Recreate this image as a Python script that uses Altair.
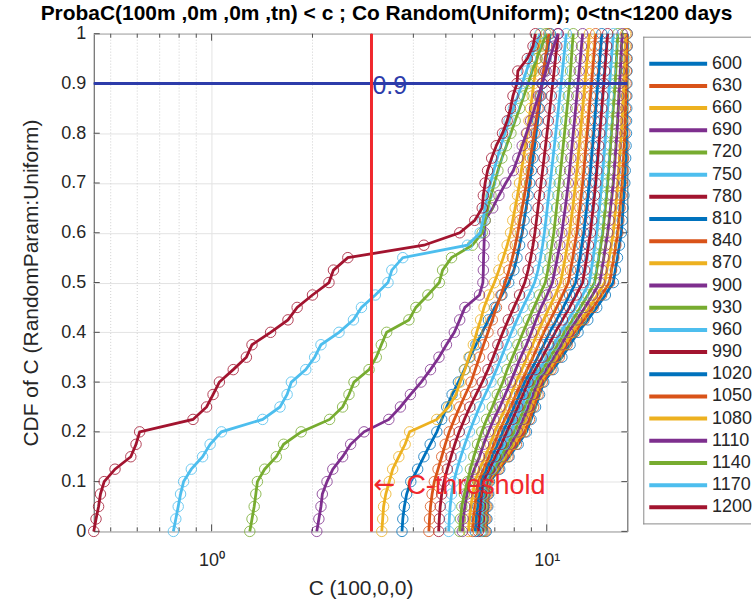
import altair as alt
import pandas as pd

# Empirical CDF levels shared by every series
cdf_levels = [0.0, 0.025, 0.05, 0.075, 0.1, 0.125, 0.15, 0.175, 0.2, 0.225,
              0.25, 0.275, 0.3, 0.325, 0.35, 0.375, 0.4, 0.425, 0.45, 0.475,
              0.5, 0.525, 0.55, 0.575, 0.6, 0.625, 0.65, 0.675, 0.7, 0.725,
              0.75, 0.775, 0.8, 0.825, 0.85, 0.875, 0.9, 0.925, 0.95, 0.975, 1.0]

tn_days = [600, 630, 660, 690, 720, 750, 780, 810, 840, 870, 900,
           930, 960, 990, 1020, 1050, 1080, 1110, 1140, 1170, 1200]

# Concentration C(100,0,0) reached at each CDF level, one list per tn
c_600 = [6.60, 6.63, 6.67, 6.71, 6.75, 7.24, 7.72, 8.22, 8.70, 8.98, 9.26, 9.52, 9.80, 10.44,
         11.10, 11.74, 12.40, 13.26, 14.10, 14.96, 15.80, 16.02, 16.26, 16.48, 16.70, 16.80,
         16.90, 17.00, 17.10, 17.15, 17.20, 17.25, 17.30, 17.31, 17.33, 17.34, 17.35, 17.36,
         17.37, 17.39, 17.40]
c_630 = [6.55, 6.58, 6.62, 6.66, 6.70, 7.18, 7.66, 8.12, 8.60, 8.88, 9.14, 9.42, 9.70, 10.30,
         10.90, 11.50, 12.10, 12.92, 13.76, 14.58, 15.40, 15.62, 15.86, 16.08, 16.30, 16.42,
         16.56, 16.68, 16.80, 16.88, 16.95, 17.02, 17.10, 17.14, 17.18, 17.22, 17.25, 17.28,
         17.30, 17.33, 17.35]
c_660 = [6.50, 6.53, 6.57, 6.61, 6.66, 7.10, 7.54, 7.96, 8.40, 8.68, 8.98, 9.26, 9.55, 10.14,
         10.72, 11.32, 11.90, 12.66, 13.40, 14.16, 14.90, 15.12, 15.36, 15.58, 15.80, 15.92,
         16.06, 16.18, 16.30, 16.40, 16.50, 16.60, 16.70, 16.78, 16.85, 16.92, 17.00, 17.05,
         17.10, 17.15, 17.20]
c_690 = [6.45, 6.48, 6.52, 6.57, 6.62, 7.02, 7.40, 7.80, 8.20, 8.50, 8.80, 9.10, 9.40, 9.96,
         10.50, 11.06, 11.60, 12.30, 13.00, 13.70, 14.40, 14.60, 14.80, 15.00, 15.20, 15.36,
         15.50, 15.66, 15.80, 15.90, 16.00, 16.10, 16.20, 16.28, 16.35, 16.42, 16.50, 16.58,
         16.65, 16.72, 16.80]
c_720 = [6.40, 6.43, 6.47, 6.52, 6.58, 6.94, 7.30, 7.64, 8.00, 8.30, 8.60, 8.90, 9.20, 9.72,
         10.24, 10.78, 11.30, 11.96, 12.60, 13.26, 13.90, 14.10, 14.30, 14.50, 14.70, 14.82,
         14.96, 15.08, 15.20, 15.30, 15.40, 15.50, 15.60, 15.70, 15.80, 15.90, 16.00, 16.08,
         16.15, 16.22, 16.30]
c_750 = [6.35, 6.38, 6.42, 6.47, 6.52, 6.84, 7.16, 7.48, 7.80, 8.10, 8.40, 8.70, 9.00, 9.50,
         10.00, 10.50, 11.00, 11.60, 12.20, 12.80, 13.40, 13.58, 13.76, 13.92, 14.10, 14.22,
         14.36, 14.48, 14.60, 14.70, 14.80, 14.90, 15.00, 15.10, 15.20, 15.30, 15.40, 15.50,
         15.60, 15.70, 15.80]
c_780 = [6.25, 6.29, 6.34, 6.39, 6.45, 6.74, 7.02, 7.32, 7.60, 7.90, 8.20, 8.50, 8.80, 9.24,
         9.70, 10.14, 10.60, 11.14, 11.70, 12.24, 12.80, 12.98, 13.16, 13.32, 13.50, 13.62,
         13.76, 13.88, 14.00, 14.10, 14.20, 14.30, 14.40, 14.50, 14.60, 14.70, 14.80, 14.90,
         15.00, 15.10, 15.20]
c_810 = [6.12, 6.16, 6.22, 6.28, 6.35, 6.60, 6.86, 7.14, 7.40, 7.70, 8.00, 8.30, 8.60, 9.00,
         9.40, 9.80, 10.20, 10.70, 11.20, 11.70, 12.20, 12.38, 12.56, 12.72, 12.90, 13.02,
         13.16, 13.28, 13.40, 13.50, 13.60, 13.70, 13.80, 13.90, 14.00, 14.10, 14.20, 14.30,
         14.40, 14.50, 14.60]
c_840 = [6.00, 6.04, 6.10, 6.17, 6.25, 6.48, 6.72, 6.96, 7.20, 7.50, 7.80, 8.10, 8.40, 8.74,
         9.10, 9.44, 9.80, 10.24, 10.70, 11.14, 11.60, 11.78, 11.96, 12.12, 12.30, 12.42,
         12.56, 12.68, 12.80, 12.90, 13.00, 13.10, 13.20, 13.30, 13.40, 13.50, 13.60, 13.70,
         13.80, 13.90, 14.00]
c_870 = [5.84, 5.88, 5.94, 6.02, 6.10, 6.30, 6.55, 6.78, 7.00, 7.26, 7.55, 7.82, 8.10, 8.42,
         8.74, 9.08, 9.40, 9.78, 10.18, 10.60, 11.00, 11.18, 11.36, 11.52, 11.70, 11.82,
         11.96, 12.08, 12.20, 12.30, 12.40, 12.50, 12.60, 12.70, 12.80, 12.90, 13.00, 13.10,
         13.20, 13.30, 13.40]
c_900 = [5.60, 5.63, 5.70, 5.78, 5.90, 6.08, 6.30, 6.48, 6.70, 6.95, 7.25, 7.52, 7.80, 8.08,
         8.36, 8.70, 9.00, 9.30, 9.62, 10.02, 10.40, 10.58, 10.76, 10.94, 11.10, 11.22,
         11.36, 11.48, 11.60, 11.70, 11.80, 11.90, 12.00, 12.10, 12.20, 12.30, 12.40, 12.50,
         12.60, 12.70, 12.80]
c_930 = [5.50, 5.53, 5.58, 5.68, 5.80, 5.92, 6.06, 6.22, 6.40, 6.62, 6.88, 7.12, 7.40, 7.62,
         7.90, 8.20, 8.50, 8.82, 9.16, 9.52, 9.90, 10.08, 10.22, 10.36, 10.50, 10.60,
         10.70, 10.80, 10.90, 11.00, 11.10, 11.20, 11.30, 11.40, 11.50, 11.60, 11.70, 11.78,
         11.85, 11.92, 12.00]
c_960 = [5.10, 5.12, 5.15, 5.20, 5.28, 5.40, 5.54, 5.70, 5.88, 6.08, 6.30, 6.55, 6.82, 7.08,
         7.32, 7.58, 7.85, 8.15, 8.48, 8.85, 9.20, 9.42, 9.58, 9.72, 9.84, 9.94,
         10.04, 10.14, 10.24, 10.34, 10.44, 10.54, 10.64, 10.74, 10.84, 10.94, 11.04, 11.14,
         11.24, 11.34, 11.44]
c_990 = [4.76, 4.78, 4.81, 4.86, 4.94, 5.05, 5.18, 5.32, 5.48, 5.68, 5.90, 6.15, 6.42, 6.68,
         6.92, 7.15, 7.40, 7.68, 7.98, 8.30, 8.60, 8.80, 8.96, 9.10, 9.22, 9.32,
         9.42, 9.52, 9.62, 9.72, 9.82, 9.92, 10.02, 10.12, 10.22, 10.32, 10.42, 10.52,
         10.62, 10.72, 10.82]
c_1020 = [3.70, 3.72, 3.76, 3.82, 3.93, 4.12, 4.30, 4.49, 4.70, 4.86, 5.03, 5.22, 5.45, 5.68,
          5.90, 6.15, 6.42, 6.70, 7.00, 7.35, 7.70, 7.98, 8.15, 8.30, 8.45, 8.56,
          8.68, 8.80, 8.90, 9.00, 9.10, 9.20, 9.30, 9.40, 9.50, 9.60, 9.70, 9.82,
          9.95, 10.10, 10.25]
c_1050 = [4.45, 4.47, 4.50, 4.55, 4.62, 4.74, 4.86, 4.98, 5.12, 5.30, 5.50, 5.72, 5.95, 6.12,
          6.30, 6.48, 6.68, 6.88, 7.08, 7.30, 7.52, 7.72, 7.90, 8.06, 8.20, 8.32,
          8.45, 8.58, 8.70, 8.82, 8.94, 9.06, 9.18, 9.30, 9.42, 9.54, 9.66, 9.78,
          9.90, 10.02, 10.15]
c_1080 = [3.22, 3.24, 3.26, 3.31, 3.39, 3.47, 3.62, 3.78, 3.90, 4.70, 5.10, 5.36, 5.52, 5.70,
          5.86, 6.04, 6.18, 6.35, 6.50, 6.72, 6.98, 7.20, 7.42, 7.62, 7.80, 7.92,
          8.05, 8.18, 8.30, 8.40, 8.52, 8.63, 8.75, 8.85, 8.95, 9.05, 9.15, 9.25,
          9.36, 9.48, 9.60]
c_1110 = [2.06, 2.09, 2.12, 2.14, 2.21, 2.30, 2.46, 2.60, 2.85, 3.38, 3.66, 3.92, 4.22, 4.50,
          4.77, 5.02, 5.30, 5.50, 5.70, 6.30, 6.45, 6.47, 6.48, 6.50, 6.52, 6.55,
          6.90, 7.20, 7.55, 7.95, 8.20, 8.45, 8.70, 8.95, 9.20, 9.45, 9.70, 9.95,
          10.20, 10.50, 10.80]
c_1140 = [1.300, 1.320, 1.340, 1.355, 1.370, 1.440, 1.560, 1.640, 1.850, 2.250, 2.460, 2.570,
          2.660, 2.950, 3.100, 3.210, 3.330, 3.880, 4.070, 4.420, 4.780, 4.890, 5.200, 6.000,
          6.420, 6.550, 6.680, 6.820, 6.980, 7.150, 7.350, 7.580, 7.820, 8.050, 8.300, 8.550,
          8.800, 9.050, 9.350, 9.650, 9.950]
c_1170 = [0.769, 0.782, 0.795, 0.808, 0.825, 0.870, 0.940, 0.990, 1.070, 1.420, 1.600, 1.680,
          1.730, 1.910, 2.030, 2.120, 2.400, 2.650, 2.800, 3.080, 3.360, 3.450, 3.720, 5.800,
          6.330, 6.450, 6.550, 6.650, 6.800, 6.950, 7.120, 7.300, 7.500, 7.720, 7.950, 8.200,
          8.450, 8.700, 8.950, 9.250, 9.550]
c_1200 = [0.445, 0.452, 0.460, 0.466, 0.478, 0.515, 0.574, 0.595, 0.610, 0.880, 0.966, 1.010,
          1.055, 1.160, 1.270, 1.320, 1.500, 1.690, 1.800, 2.000, 2.240, 2.310, 2.550, 4.300,
          5.500, 6.100, 6.420, 6.470, 6.550, 6.660, 6.850, 7.070, 7.380, 7.620, 7.800, 7.930,
          8.150, 8.200, 8.750, 9.100, 9.250]

curves = {600: c_600, 630: c_630, 660: c_660, 690: c_690, 720: c_720, 750: c_750,
          780: c_780, 810: c_810, 840: c_840, 870: c_870, 900: c_900, 930: c_930,
          960: c_960, 990: c_990, 1020: c_1020, 1050: c_1050, 1080: c_1080,
          1110: c_1110, 1140: c_1140, 1170: c_1170, 1200: c_1200}

threshold_c = 3.0
level_90 = 0.9
y_ticks = [0, 0.1, 0.2, 0.3, 0.4, 0.5, 0.6, 0.7, 0.8, 0.9, 1]
x_major = [1, 10]
x_minor = [0.5, 0.6, 0.7, 0.8, 0.9, 2, 3, 4, 5, 6, 7, 8, 9]

rows = []
for t in tn_days:
    for k, (p, c) in enumerate(zip(cdf_levels, curves[t])):
        rows.append({"tn": t, "k": k, "p": p, "c": c})
df = pd.DataFrame(rows)

all_c = [v for t in tn_days for v in curves[t]]
x_lo, x_hi = min(all_c), max(all_c)

W, H = 535, 499
FONT = "Liberation Sans"
TEXT = "#262626"
FRAME = "#4D4D4D"
palette = ["#0072BD", "#D95319", "#EDB120", "#7E2F8E", "#77AC30", "#4DBEEE", "#A2142F"]
series_colors = [palette[i % len(palette)] for i in range(len(tn_days))]
color_scale = alt.Scale(domain=tn_days, range=series_colors)

x_axis = alt.Axis(values=x_major, labelExpr="datum.value == 1 ? '10⁰' : '10¹'",
                  ticks=False, domain=False, grid=True, gridColor="#E3E3E3",
                  labelFontSize=18, labelPadding=20, labelColor=TEXT, labelFont=FONT,
                  title="C (100,0,0)", titleFontSize=21, titleFontWeight="normal",
                  titleColor=TEXT, titleFont=FONT, titlePadding=8)
y_axis = alt.Axis(values=y_ticks,
                  labelExpr="datum.value == 0 ? '0' : datum.value == 1 ? '1' : format(datum.value, '.1f')",
                  ticks=False, domain=False, grid=True, gridColor="#E3E3E3",
                  labelFontSize=18, labelPadding=8, labelColor=TEXT, labelFont=FONT,
                  title="CDF of C (RandomParam:Uniform)", titleFontSize=21,
                  titleFontWeight="normal", titleColor=TEXT, titleFont=FONT, titlePadding=19)

x_scale = alt.Scale(type="log", domain=[x_lo, x_hi], nice=False)
y_scale = alt.Scale(domain=[0, 1], nice=False, zero=False)
x_enc = alt.X("c:Q", scale=x_scale, axis=x_axis)
y_enc = alt.Y("p:Q", scale=y_scale, axis=y_axis)
col_enc = alt.Color("tn:O", scale=color_scale, legend=None)

layers = []
# dotted minor grid of the log axis
layers.append(
    alt.Chart(pd.DataFrame({"c": x_minor}))
    .mark_rule(color="#D0D0D0", strokeDash=[1, 2], strokeWidth=1)
    .encode(x=x_enc)
)

# inward tick marks on all four sides of the box
ytick_df = pd.DataFrame({"p": y_ticks})
xmaj_df = pd.DataFrame({"c": x_major})
xmin_df = pd.DataFrame({"c": x_minor})
for x0, x1 in [(0, 6), (W - 6, W)]:
    layers.append(alt.Chart(ytick_df).mark_rule(color=FRAME, strokeWidth=1)
                  .encode(y=y_enc, x=alt.value(x0), x2=alt.value(x1)))
for y0, y1, tick_df in [(H, H - 7, xmaj_df), (0, 7, xmaj_df), (H, H - 4, xmin_df), (0, 4, xmin_df)]:
    layers.append(alt.Chart(tick_df).mark_rule(color=FRAME, strokeWidth=1)
                  .encode(x=x_enc, y=alt.value(y0), y2=alt.value(y1)))

base = alt.Chart(df)
for t in tn_days:
    sub = base.transform_filter(alt.datum.tn == t)
    layers.append(sub.mark_line(strokeWidth=2.8).encode(x=x_enc, y=y_enc, color=col_enc, order="k:Q"))
    layers.append(sub.mark_point(shape="circle", filled=False, size=110, strokeWidth=1, opacity=0.8)
                  .encode(x=x_enc, y=y_enc, color=col_enc))

blue = "#2D3CAA"
red = "#F0282D"
layers.append(alt.Chart(pd.DataFrame({"p": [level_90]})).mark_rule(color=blue, strokeWidth=3).encode(y=y_enc))
layers.append(alt.Chart(pd.DataFrame({"c": [threshold_c]})).mark_rule(color=red, strokeWidth=3).encode(x=x_enc))
layers.append(
    alt.Chart(pd.DataFrame({"c": [threshold_c], "p": [level_90], "label": ["0.9"]}))
    .mark_text(align="left", baseline="middle", fontSize=25, dx=1, dy=3, color=blue, font=FONT)
    .encode(x=x_enc, y=y_enc, text="label:N")
)
# threshold annotation: long arrow glyph followed by the label
thr_df = pd.DataFrame({"c": [threshold_c], "p": [0.1], "arrow": ["←"], "label": ["C-threshold"]})
layers.append(
    alt.Chart(thr_df)
    .mark_text(align="left", baseline="middle", fontSize=26, dx=2, dy=3, color=red, font="DejaVu Sans")
    .encode(x=x_enc, y=y_enc, text="arrow:N")
)
layers.append(
    alt.Chart(thr_df)
    .mark_text(align="left", baseline="middle", fontSize=27, dx=35, dy=4, color=red, font=FONT)
    .encode(x=x_enc, y=y_enc, text="label:N")
)

main = alt.layer(*layers).properties(width=W, height=H)

# Legend panel: one coloured stroke and label per tn
LEG_W, LEG_H = 108, 499
leg_df = pd.DataFrame({"tn": tn_days})
leg_y = alt.Y("tn:O", scale=alt.Scale(type="point", range=[19, 486]), axis=None)
leg_base = alt.Chart(leg_df).encode(y=leg_y)
box_df = pd.DataFrame({"v": [0]})
box_color = "#8A8A8A"
legend = alt.layer(
    leg_base.mark_rule(strokeWidth=4).encode(x=alt.value(6), x2=alt.value(64), color=col_enc),
    leg_base.mark_text(align="left", baseline="middle", fontSize=18, font=FONT, color=TEXT)
    .encode(x=alt.value(69), text="tn:N"),
    alt.Chart(box_df).mark_rule(color=box_color, strokeWidth=1)
    .encode(x=alt.value(0.5), y=alt.value(3), y2=alt.value(492)),
    alt.Chart(box_df).mark_rule(color=box_color, strokeWidth=1)
    .encode(x=alt.value(0), x2=alt.value(LEG_W), y=alt.value(3.5)),
    alt.Chart(box_df).mark_rule(color=box_color, strokeWidth=1)
    .encode(x=alt.value(0), x2=alt.value(LEG_W), y=alt.value(491.5)),
).properties(width=LEG_W, height=LEG_H, view=alt.ViewBackground(stroke="transparent"))

chart = (
    alt.hconcat(main, legend, spacing=16, bounds="flush")
    .properties(
        title=alt.TitleParams("ProbaC(100m ,0m ,0m ,tn) < c ; Co Random(Uniform); 0<tn<1200 days",
                              fontSize=21, fontWeight="bold", font=FONT, color="#000000",
                              anchor="middle", offset=0),
        padding={"left": 20, "top": 2, "right": 0, "bottom": 0},
        background="white",
    )
    .configure_view(stroke=FRAME, strokeWidth=1)
)

chart.save("out.html", embed_options={"renderer": "svg", "actions": False})
